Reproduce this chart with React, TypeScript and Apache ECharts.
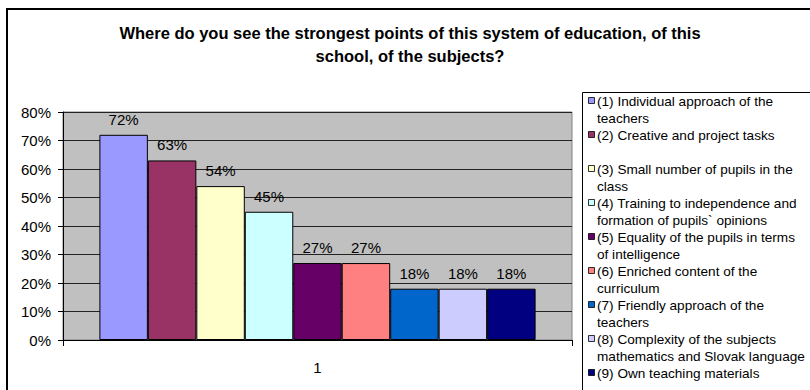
import React, { useEffect, useRef } from "react";
import * as echarts from "echarts";

const titleLines = [
  "Where do you see the strongest points of this system of education, of this",
  "school, of the subjects?",
];
const categories = ["1"];
const seriesNames = [
  "(1) Individual approach of the teachers",
  "(2) Creative and project tasks",
  "(3) Small number of pupils in the class",
  "(4) Training to independence and formation of pupils` opinions",
  "(5) Equality of the pupils in terms of intelligence",
  "(6) Enriched content of the curriculum",
  "(7) Friendly approach of the teachers",
  "(8) Complexity of the subjects mathematics and Slovak language",
  "(9) Own teaching materials",
];
const legendLabels = [
  "(1) Individual approach of the\nteachers",
  "(2) Creative and project tasks",
  "(3) Small number of pupils in the\nclass",
  "(4) Training to independence and\nformation of pupils` opinions",
  "(5) Equality of the pupils in terms\nof intelligence",
  "(6) Enriched content of the\ncurriculum",
  "(7) Friendly approach of the\nteachers",
  "(8) Complexity of the subjects\nmathematics and Slovak language",
  "(9) Own teaching materials",
];
const values = [72, 63, 54, 45, 27, 27, 18, 18, 18];
const colors = [
  "#9999FF",
  "#993366",
  "#FFFFCC",
  "#CCFFFF",
  "#660066",
  "#FF8080",
  "#0066CC",
  "#CCCCFF",
  "#000080",
];
const yMin = 0;
const yMax = 80;
const yStep = 10;

const FONT = "'Liberation Sans', Arial, sans-serif";

export default function App() {
  const ref = useRef<HTMLDivElement>(null);
  useEffect(() => {
    document.body.style.margin = "0";
    if (!ref.current) return;
    const chart = echarts.init(ref.current, null, { renderer: "svg" });

    const legendGraphics: any[] = [];
    const firstY = 101;
    const pitch = 34;
    const lh = 17;
    legendLabels.forEach((lab, i) => {
      const cy = firstY + i * pitch;
      legendGraphics.push({
        type: "rect",
        shape: { x: 588.5, y: cy - 3.5, width: 6, height: 6 },
        style: { fill: colors[i], stroke: "#000", lineWidth: 0.8 },
        z: 102,
      });
      legendGraphics.push({
        type: "text",
        x: 597,
        y: cy - lh / 2,
        style: {
          text: lab,
          fill: "#000",
          fontSize: 13.6,
          fontFamily: FONT,
          lineHeight: lh,
          align: "left",
          verticalAlign: "top",
        },
        z: 102,
      });
    });

    const option: any = {
      animation: false,
      backgroundColor: "#fff",
      grid: {
        left: 63,
        top: 112,
        width: 509,
        height: 228,
        containLabel: false,
        show: true,
        backgroundColor: "#C0C0C0",
        borderColor: "#808080",
        borderWidth: 1,
      },
      xAxis: {
        type: "category",
        data: categories,
        axisLine: { show: true, lineStyle: { color: "#000", width: 1 } },
        axisTick: {
          show: true,
          length: 6,
          alignWithLabel: false,
          lineStyle: { color: "#000" },
        },
        axisLabel: { fontSize: 15, color: "#000", margin: 20, fontFamily: FONT },
        splitLine: { show: false },
      },
      yAxis: {
        type: "value",
        min: yMin,
        max: yMax,
        interval: yStep,
        axisLine: { show: true, lineStyle: { color: "#000", width: 1 } },
        axisTick: { show: true, length: 5, lineStyle: { color: "#000" } },
        axisLabel: {
          formatter: "{value}%",
          fontSize: 15,
          color: "#000",
          margin: 12,
          fontFamily: FONT,
        },
        splitLine: { show: true, lineStyle: { color: "#222", width: 1 } },
      },
      series: seriesNames.map((name, i) => ({
        type: "bar",
        name,
        data: [values[i]],
        barGap: "0%",
        barCategoryGap: "14.3%",
        itemStyle: { color: colors[i], borderColor: "#000", borderWidth: 1 },
        label: {
          show: true,
          position: "top",
          distance: 8,
          formatter: "{c}%",
          fontSize: 15,
          color: "#000",
          fontFamily: FONT,
        },
      })),
      graphic: [
        {
          type: "rect",
          shape: { x: 7, y: 9, width: 900, height: 500 },
          style: { fill: "none", stroke: "#000", lineWidth: 2 },
          z: 100,
        },
        {
          type: "text",
          x: 410,
          y: 44,
          style: {
            text: titleLines.join("\n"),
            fill: "#000",
            fontSize: 16.5,
            fontWeight: "bold",
            fontFamily: FONT,
            lineHeight: 23,
            align: "center",
            verticalAlign: "middle",
          },
          z: 100,
        },
        {
          type: "rect",
          shape: { x: 582.5, y: 92.5, width: 300, height: 400 },
          style: { fill: "#fff", stroke: "#000", lineWidth: 1 },
          z: 101,
        },
        ...legendGraphics,
      ],
    };
    chart.setOption(option);
    return () => chart.dispose();
  }, []);
  return <div ref={ref} style={{ width: 810, height: 390 }} />;
}
